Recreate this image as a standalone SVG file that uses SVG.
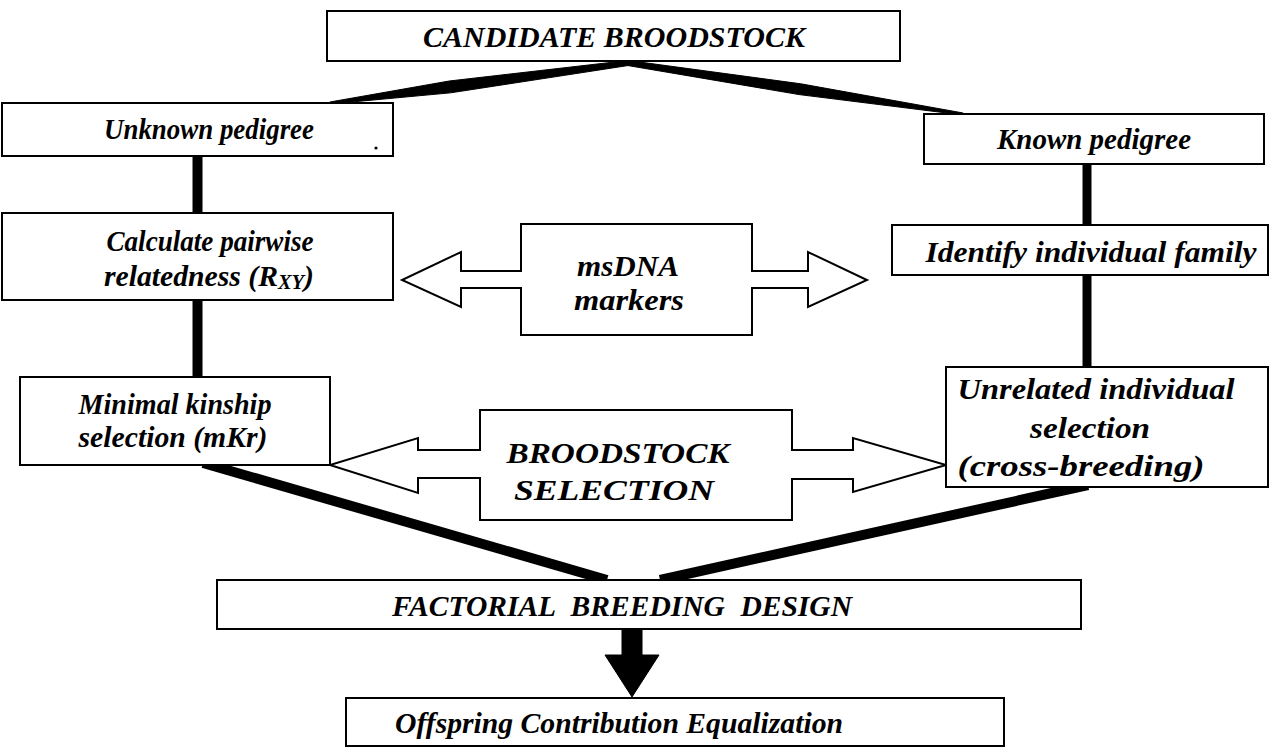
<svg xmlns="http://www.w3.org/2000/svg" width="1274" height="751" viewBox="0 0 1274 751">
<style>
.box{fill:#fff;stroke:#000;stroke-width:2}
.t{font-family:"Liberation Serif","Times New Roman",serif;font-weight:bold;font-style:italic;font-size:29px;fill:#000;text-anchor:middle}
.conn{fill:#000;stroke:#000;stroke-width:1;stroke-linejoin:round}
.thick{stroke:#000;stroke-width:10;fill:none}
</style>
<rect width="1274" height="751" fill="#fff"/>
<g id="connectors">
  <polygon class="conn" points="627.7,60.5 449.2,81 329.9,102 330.1,104 450.8,92.8 628.3,65.5"/>
  <polygon class="conn" points="628.4,60.5 800.8,83.8 963.2,113 962.8,115 799.2,94.6 627.6,65.5"/>
  <rect class="conn" x="193" y="155" width="9" height="58"/>
  <rect class="conn" x="193" y="300" width="9" height="77"/>
  <rect class="conn" x="1083" y="164" width="8" height="61"/>
  <rect class="conn" x="1083" y="275" width="8" height="92"/>
  <line class="thick" x1="203" y1="463" x2="607" y2="580"/>
  <line class="thick" x1="1088" y1="485" x2="660" y2="580"/>
  <polygon class="conn" points="622,629 642,629 642,655 659,655 632,697 605,655 622,655"/>
</g>
<g id="candidate">
  <rect class="box" x="327" y="11" width="573" height="50"/>
  <text class="t" x="614" y="47" font-size="30" textLength="382" lengthAdjust="spacingAndGlyphs">CANDIDATE BROODSTOCK</text>
</g>
<g id="unknown">
  <rect class="box" x="2" y="103" width="391" height="53"/>
  <text class="t" x="209" y="139" textLength="210" lengthAdjust="spacingAndGlyphs">Unknown pedigree</text>
  <circle cx="376" cy="148" r="1.6" fill="#000"/>
</g>
<g id="known">
  <rect class="box" x="924" y="114" width="340" height="50"/>
  <text class="t" x="1094" y="149" textLength="194" lengthAdjust="spacingAndGlyphs">Known pedigree</text>
</g>
<g id="calculate">
  <rect class="box" x="2" y="213" width="391" height="87"/>
  <text class="t" x="210" y="251" textLength="207" lengthAdjust="spacingAndGlyphs">Calculate pairwise</text>
  <text class="t" x="209" y="286" textLength="210" lengthAdjust="spacingAndGlyphs">relatedness (R<tspan font-size="20" dy="3">XY</tspan><tspan dy="-3">)</tspan></text>
</g>
<g id="msdna">
  <path class="box" d="M521,224 H752 V271 H808 V252 L867,280 L808,307 V288 H752 V335 H521 V288 H461 V307 L402,280 L461,252 V271 H521 Z"/>
  <text class="t" x="628" y="276" textLength="102" lengthAdjust="spacingAndGlyphs">msDNA</text>
  <text class="t" x="629" y="310" textLength="110" lengthAdjust="spacingAndGlyphs">markers</text>
</g>
<g id="identify">
  <rect class="box" x="892" y="225" width="376" height="50"/>
  <text class="t" x="1091" y="262" textLength="331" lengthAdjust="spacingAndGlyphs">Identify individual family</text>
</g>
<g id="minimal">
  <rect class="box" x="20" y="377" width="310" height="88"/>
  <text class="t" x="175" y="414" textLength="193" lengthAdjust="spacingAndGlyphs">Minimal kinship</text>
  <text class="t" x="173" y="447" textLength="189" lengthAdjust="spacingAndGlyphs">selection (mKr)</text>
</g>
<g id="broodstock-selection">
  <path class="box" d="M480,410 H792 V450 H853 V438 L946,465 L853,492 V479 H792 V520 H480 V478 H418 V493 L330,465 L418,438 V450 H480 Z"/>
  <text class="t" x="618" y="463" textLength="223" lengthAdjust="spacingAndGlyphs">BROODSTOCK</text>
  <text class="t" x="614" y="500" textLength="200" lengthAdjust="spacingAndGlyphs">SELECTION</text>
</g>
<g id="unrelated">
  <rect class="box" x="946" y="367" width="322" height="120"/>
  <text class="t" x="1096" y="399" textLength="277" lengthAdjust="spacingAndGlyphs">Unrelated individual</text>
  <text class="t" x="1090" y="438" textLength="120" lengthAdjust="spacingAndGlyphs">selection</text>
  <text class="t" x="1081" y="476" textLength="247" lengthAdjust="spacingAndGlyphs">(cross-breeding)</text>
</g>
<g id="factorial">
  <rect class="box" x="217" y="580" width="864" height="49"/>
  <text class="t" x="622" y="616" textLength="460" lengthAdjust="spacingAndGlyphs" word-spacing="8">FACTORIAL  BREEDING  DESIGN</text>
</g>
<g id="offspring">
  <rect class="box" x="346" y="698" width="658" height="48"/>
  <text class="t" x="619" y="733" textLength="448" lengthAdjust="spacingAndGlyphs">Offspring Contribution Equalization</text>
</g>
</svg>
